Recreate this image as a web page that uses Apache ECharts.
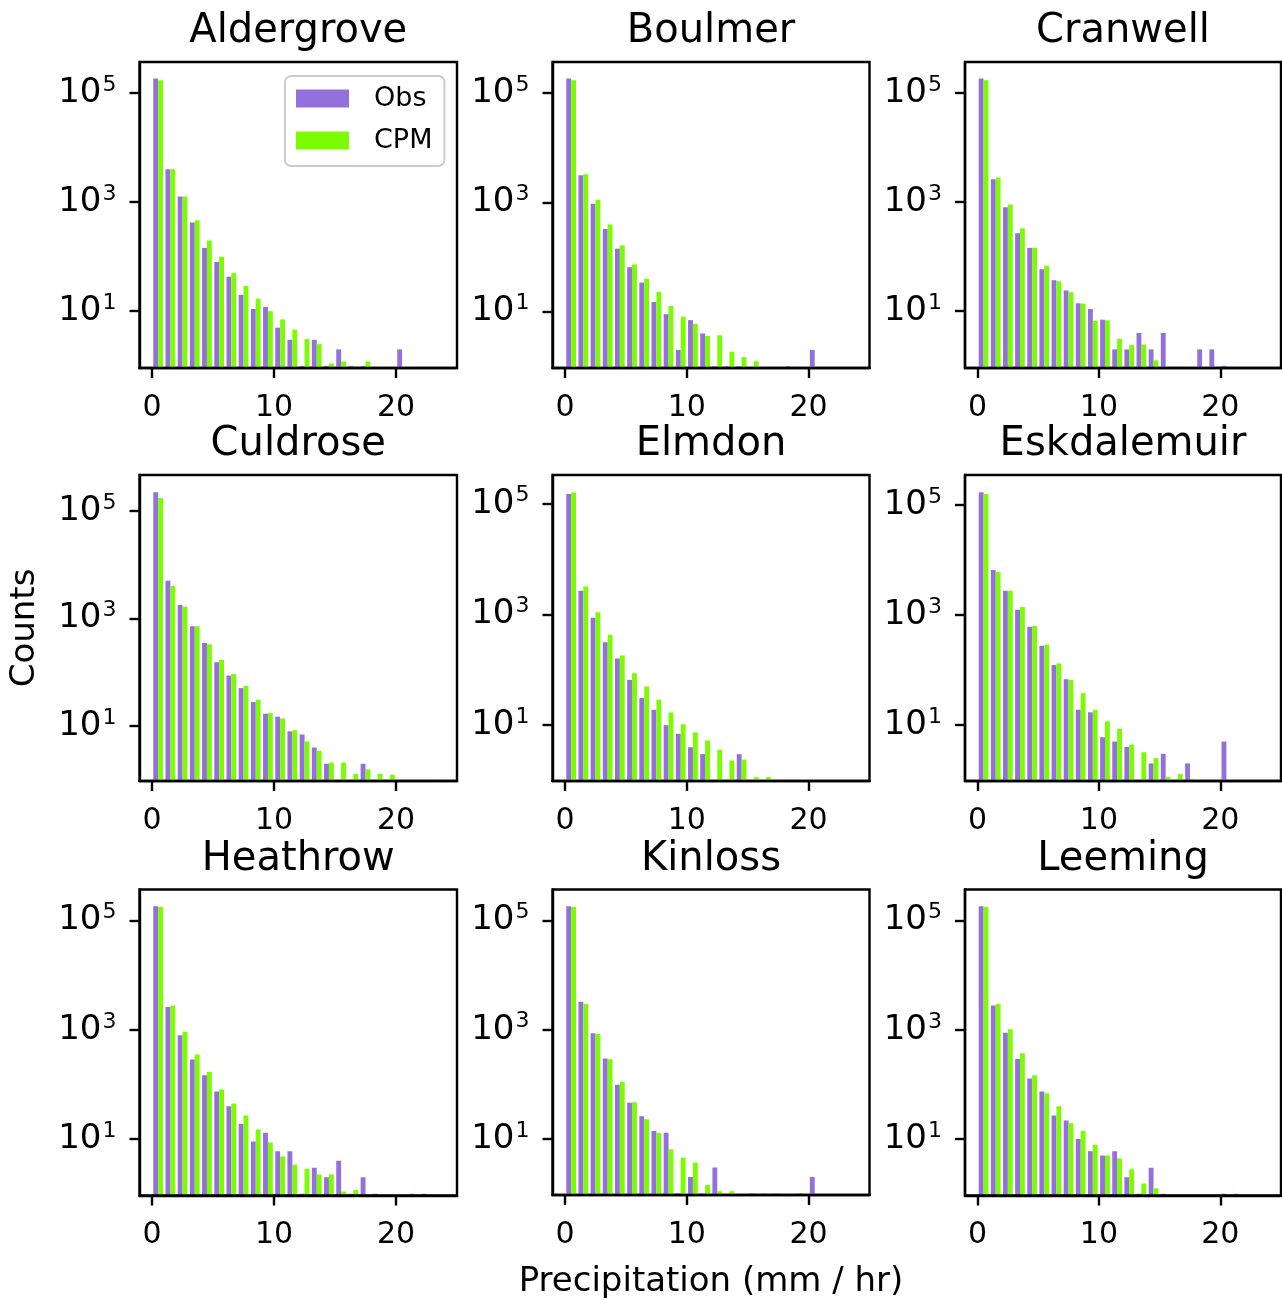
<!DOCTYPE html>
<html>
<head>
<meta charset="utf-8">
<script src="https://cdn.jsdelivr.net/npm/echarts@6/dist/echarts.min.js"></script>
<style>
  html, body { margin: 0; padding: 0; background: #ffffff; }
  #chart { width: 1282px; height: 1300px; }
</style>
</head>
<body>
<div id="chart"></div>
<script>
// Hourly precipitation histograms (1 mm/hr bins), observations vs CPM, per station.
const stations = ['Aldergrove', 'Boulmer', 'Cranwell', 'Culdrose', 'Elmdon',
                  'Eskdalemuir', 'Heathrow', 'Kinloss', 'Leeming'];

// left edge of each 1 mm/hr bin
const binStarts = [0, 1, 2, 3, 4, 5, 6, 7, 8, 9, 10, 11, 12, 13, 14, 15, 16, 17, 18, 19, 20, 21, 22, 23];

// counts per bin (0 = empty bin)
const aldergroveObs  = [183000, 3980, 1260, 421, 145, 80, 43, 20, 11, 12, 5, 3, 1, 3, 1, 2, 1, 1, 0, 0, 2, 0, 0, 0];
const aldergroveCpm  = [171000, 3980, 1260, 464, 197, 99, 50, 29, 17, 10, 7.1, 4.6, 3.1, 2.5, 1.1, 1.2, 0, 1.2, 0, 0, 0, 0, 0, 0];
const boulmerObs     = [183000, 3130, 940, 324, 142, 65, 34, 15, 9, 2, 7, 4, 1, 1, 1, 0, 0, 0, 1, 0, 2, 0, 0, 0];
const boulmerCpm     = [170000, 3270, 1110, 394, 163, 73, 40, 23, 12.7, 8.1, 6.0, 3.6, 3.7, 1.86, 1.47, 1.24, 0, 0, 0, 0, 0, 0, 0, 0];
const cranwellObs    = [183000, 2620, 804, 268, 145, 59, 37, 24, 14, 11, 7, 2, 2, 4, 2, 4, 0, 0, 2, 2, 1, 0, 0, 0];
const cranwellCpm    = [171000, 2810, 900, 332, 145, 68, 35.5, 22.3, 13.8, 6.7, 6.8, 3.1, 2.4, 2.45, 1.26, 0, 0, 0, 0, 0, 0, 0, 0, 0];
const culdroseObs    = [222000, 5040, 1780, 716, 352, 154, 87, 51, 28, 17, 15, 8, 7, 4, 2, 0, 0, 2, 0, 1, 0, 0, 0, 1];
const culdroseCpm    = [174000, 4010, 1660, 716, 332, 170, 93, 56, 31, 17.4, 13.9, 8.4, 5.2, 3.5, 2.1, 2.1, 1.3, 1.57, 1.3, 1.25, 0, 0, 0, 0];
const elmdonObs      = [150000, 2680, 871, 316, 160, 66, 31, 19, 10, 7, 4, 3, 1, 1, 3, 0, 1, 1, 0, 0, 1, 1, 0, 0];
const elmdonCpm      = [160000, 3210, 1100, 424, 182, 87, 50, 29, 17, 10.4, 7.4, 5.3, 3.6, 2.3, 2.4, 1.15, 1.15, 0, 0, 0, 0, 0, 0, 0];
const eskdalemuirObs = [170000, 6580, 2770, 1250, 614, 277, 123, 68, 19, 17, 6, 5, 4, 1, 2, 3, 1, 2, 0, 0, 5, 0, 0, 0];
const eskdalemuirCpm = [158000, 6050, 2770, 1400, 631, 289, 132, 66, 38, 18.7, 11.7, 8.5, 4.4, 3.2, 2.5, 1.13, 1.28, 1.05, 0, 0, 0, 0, 0, 0];
const heathrowObs    = [183000, 2610, 798, 286, 147, 74, 40, 19, 9, 13, 6, 6, 1, 3, 2, 4, 1, 2, 1, 0, 0, 1, 1, 0];
const heathrowCpm    = [178000, 2790, 918, 352, 169, 81, 45, 27, 15, 8.7, 4.8, 3.4, 2.86, 2.25, 2.25, 1.1, 1.17, 0, 0, 0, 0, 0, 0, 0];
const kinlossObs     = [183000, 3240, 863, 296, 98, 46, 26, 14, 13, 1, 2, 1, 3, 0, 0, 1, 1, 1, 0, 1, 2, 0, 0, 0];
const kinlossCpm     = [176000, 2970, 839, 288, 112, 47, 23, 12.9, 6.5, 4.5, 3.7, 1.44, 1.1, 1.1, 0, 0, 0, 0, 0, 0, 0, 0, 0, 0];
const leemingObs     = [183000, 2790, 881, 294, 128, 74, 27, 22, 10, 6, 5, 6, 2, 1, 3, 1, 0, 0, 0, 0, 1, 1, 0, 0];
const leemingCpm     = [178000, 2960, 1030, 373, 147, 69, 40, 19.4, 14, 7.8, 5.0, 4.4, 2.8, 1.54, 1.26, 0, 0, 0, 0, 0, 0, 0, 0, 0];

const obsCounts = [aldergroveObs, boulmerObs, cranwellObs, culdroseObs, elmdonObs,
                   eskdalemuirObs, heathrowObs, kinlossObs, leemingObs];
const cpmCounts = [aldergroveCpm, boulmerCpm, cranwellCpm, culdroseCpm, elmdonCpm,
                   eskdalemuirCpm, heathrowCpm, kinlossCpm, leemingCpm];

// axis ticks and per-panel count limits
const xTicks = [0, 10, 20];
const yTicks = [10, 1000, 100000];
const xLimits = [-1.03, 25.0];
const yLower = [0.912, 0.933, 0.912, 0.955, 0.982, 0.959, 0.927, 0.94, 0.927];
const yUpper = [369000, 368000, 369000, 466000, 331000, 351000, 371000, 370000, 371000];

const seriesNames = ['Obs', 'CPM'];
const seriesColors = ['#9370DB', '#7CFC00'];

// ---- layout ----
const FONT = 'DejaVu Sans';
const colLeft = [139.5, 552.5, 965];
const colWidth = [317.5, 317, 316];
const rowTop = [62, 475, 889.5];
const rowHeight = 306;
const frameWidth = 2.4;

const grids = [], xAxes = [], yAxes = [], titles = [], series = [];

function barRenderer(offset) {
  return function (params, api) {
    const x = api.value(0);
    const v = api.value(1);
    const p0 = api.coord([x + offset, v]);
    const p1 = api.coord([x + offset + 0.4, v]);
    const cs = params.coordSys;
    const bottom = cs.y + cs.height;
    return {
      type: 'rect',
      shape: { x: p0[0], y: p0[1], width: p1[0] - p0[0], height: bottom - p0[1] },
      style: api.style()
    };
  };
}

stations.forEach((name, i) => {
  const r = Math.floor(i / 3), c = i % 3;
  grids.push({
    left: colLeft[c], top: rowTop[r], width: colWidth[c], height: rowHeight,
    show: true, borderColor: '#000', borderWidth: frameWidth, z: 5,
    backgroundColor: 'transparent'
  });
  titles.push({
    text: name,
    left: colLeft[c] + colWidth[c] / 2,
    top: rowTop[r] - 50,
    textAlign: 'center',
    padding: 0,
    textStyle: { fontFamily: FONT, fontSize: 40, fontWeight: 'normal', color: '#000' }
  });
  xAxes.push({
    type: 'value', gridIndex: i, min: xLimits[0], max: xLimits[1],
    axisLine: { show: true, onZero: false, lineStyle: { color: '#000', width: frameWidth } },
    axisTick: { show: true, inside: false, length: 10, customValues: xTicks,
                lineStyle: { color: '#000', width: 2.4 } },
    axisLabel: { show: true, customValues: xTicks, margin: 25,
                 fontFamily: FONT, fontSize: 30, color: '#000' },
    splitLine: { show: false },
    name: i === 7 ? 'Precipitation (mm / hr)' : '',
    nameLocation: 'middle', nameGap: 70,
    nameTextStyle: { fontFamily: FONT, fontSize: 34, color: '#000' }
  });
  yAxes.push({
    type: 'log', logBase: 10, gridIndex: i, min: yLower[i], max: yUpper[i],
    axisLine: { show: true, onZero: false, lineStyle: { color: '#000', width: frameWidth } },
    axisTick: { show: true, inside: false, length: 10, customValues: yTicks,
                lineStyle: { color: '#000', width: 2.4 } },
    axisLabel: {
      show: true, customValues: yTicks, margin: 23,
      formatter: v => '{b|10}{s|' + Math.round(Math.log10(v)) + '}',
      rich: {
        b: { fontFamily: FONT, fontSize: 34, color: '#000', lineHeight: 38 },
        s: { fontFamily: FONT, fontSize: 22, color: '#000', lineHeight: 28, verticalAlign: 'top',
             padding: [0, 0, 0, 1] }
      }
    },
    splitLine: { show: false },
    minorTick: { show: false },
    name: i === 3 ? 'Counts' : '',
    nameLocation: 'middle', nameGap: 97,
    nameTextStyle: { fontFamily: FONT, fontSize: 34, color: '#000' }
  });
  [obsCounts[i], cpmCounts[i]].forEach((counts, s) => {
    const data = [];
    binStarts.forEach((b, k) => { if (counts[k] > 0) data.push([b, counts[k]]); });
    series.push({
      type: 'custom', name: seriesNames[s], xAxisIndex: i, yAxisIndex: i,
      renderItem: barRenderer(s === 0 ? 0.1 : 0.5),
      itemStyle: { color: seriesColors[s] },
      encode: { x: 0, y: 1 },
      clip: true, silent: true,
      data: data
    });
  });
});

const chart = echarts.init(document.getElementById('chart'), null, { renderer: 'canvas' });
chart.setOption({
  animation: false,
  backgroundColor: '#ffffff',
  title: titles,
  grid: grids,
  xAxis: xAxes,
  yAxis: yAxes,
  legend: {
    data: seriesNames,
    orient: 'vertical',
    left: 285, top: 76,
    padding: [9, 12, 12, 11],
    itemGap: 15,
    itemWidth: 53, itemHeight: 18,
    icon: 'rect',
    selectedMode: false,
    backgroundColor: 'rgba(255,255,255,0.8)',
    borderColor: '#cccccc', borderWidth: 2, borderRadius: 6,
    textStyle: { fontFamily: FONT, fontSize: 27, color: '#000', padding: [0, 0, 0, 20] },
    z: 10
  },
  series: series
});
</script>
</body>
</html>
